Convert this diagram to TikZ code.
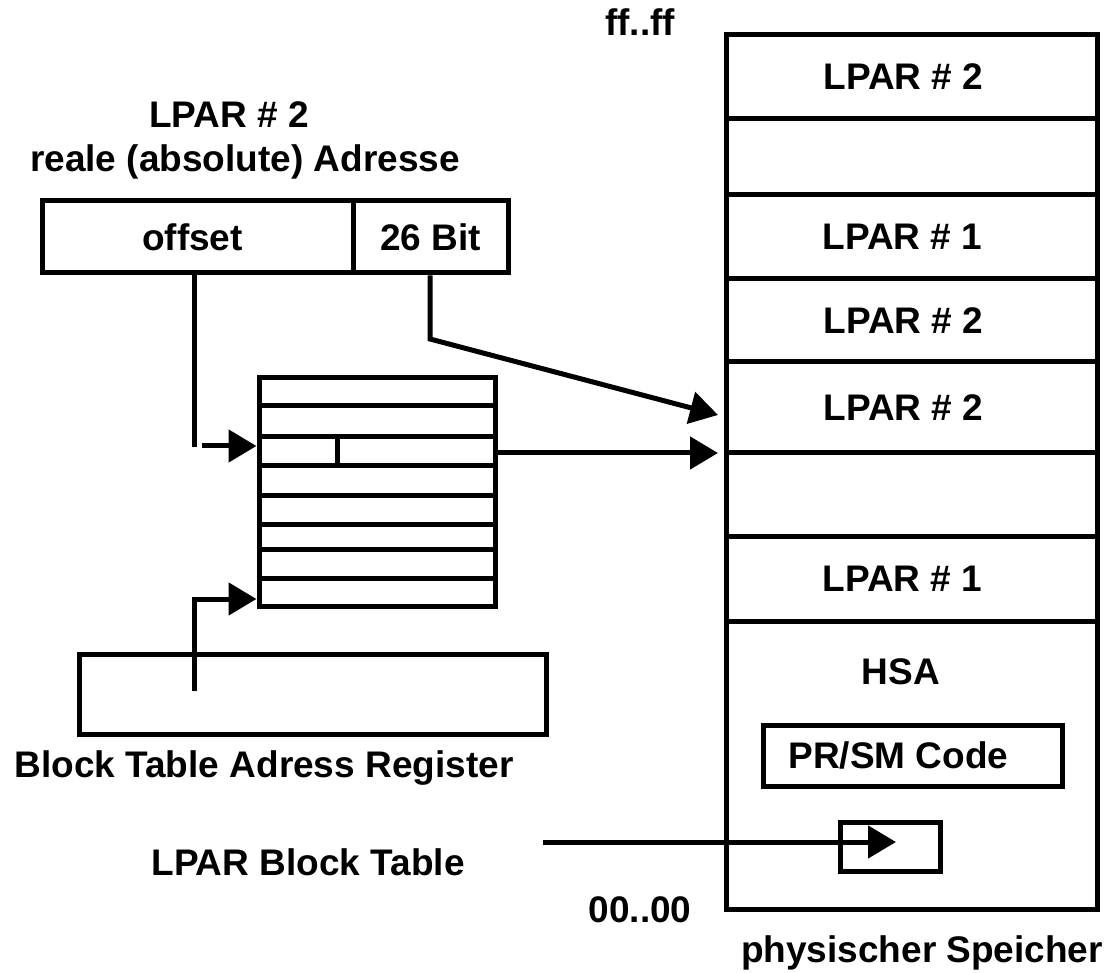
\documentclass[tikz,border=0pt]{standalone}
\usepackage{fontspec}
\setmainfont{Liberation Sans}
\usetikzlibrary{arrows.meta}
\begin{document}
\begin{tikzpicture}[x=1pt,y=-1pt,line width=5pt,
  txt/.style={font=\fontsize{37}{44}\selectfont\bfseries, inner sep=0pt, align=center},
  cell/.style={draw, rectangle, inner sep=0pt, font=\fontsize{37}{44}\selectfont\bfseries},
  memcell/.style={cell, minimum width=371pt},
  arr/.style={-{Triangle[length=28pt,width=32pt]}}]
\useasboundingbox (0,0) rectangle (1104,973);

% address register (top)
\node[txt] (t1) at (229,115) {LPAR \# 2};
\node[txt] (t2) at (245,162) {reale (absolute) Adresse};
\node[cell, minimum width=311pt, minimum height=72pt,
      label={[txt,xshift=-5pt]center:offset}] (off) at (197.5,237) {};
\node[cell, minimum width=155pt, minimum height=72pt] (bit) at (430.5,237) {26 Bit};

% block table
\node[cell, minimum width=236pt, minimum height=228pt] (tbl) at (377,492) {};
\foreach \yy in {406,437,466,496,525,550,578}
  \draw (tbl.west |- 0,\yy) -- (tbl.east |- 0,\yy);
\draw (337,437) -- (337,466);

% block table address register
\node[cell, minimum width=467pt, minimum height=80pt] (reg) at (312.5,694) {};
\node[txt] (t3) at (264,768) {Block Table Adress Register};
\node[txt] (t4) at (308,862) {LPAR Block Table};

% physical memory
\node[memcell, minimum height=84pt, label={[txt,xshift=-8pt]center:LPAR \# 2}] (m1) at (911.5,77) {};
\node[memcell, minimum height=76pt] (m2) at (911.5,157) {};
\node[memcell, minimum height=84pt, label={[txt,xshift=-9pt]center:LPAR \# 1}] (m3) at (911.5,237) {};
\node[memcell, minimum height=83pt, label={[txt,xshift=-8pt]center:LPAR \# 2}] (m4) at (911.5,320.5) {};
\node[memcell, minimum height=91pt, label={[txt,xshift=-8pt]center:LPAR \# 2}] (m5) at (911.5,407.5) {};
\node[memcell, minimum height=84pt] (m6) at (911.5,495) {};
\node[memcell, minimum height=84pt, label={[txt,xshift=-9pt]center:LPAR \# 1}] (m7) at (911.5,579) {};
\node[memcell, minimum height=288pt] (m8) at (911.5,765) {};
\node[txt] (hsa) at (901,672) {HSA};
\node[cell, minimum width=299pt, minimum height=61pt,
      label={[txt,xshift=-14pt]center:PR/SM Code}] (prsm) at (912.5,755.5) {};
\node[cell, minimum width=100pt, minimum height=49pt] (blk) at (890,846.5) {};

\node[txt] (ff) at (640,22) {ff..ff};
\node[txt] (zz) at (640,910) {00..00};
\node[txt] (ps) at (922,953) {physischer Speicher};

% connectors
\coordinate (o1) at (194,447);
\draw (off.south -| o1) -- (o1);
\coordinate (o2) at (202,446);
\draw[arr] (o2) -- (tbl.west |- o2);

\coordinate (b1) at (430,339);
\coordinate (b2) at (718,415);
\draw[arr] (bit.south -| b1) -- (b1) -- (b2);

\coordinate (h2) at (718,453);
\draw[arr] (tbl.east |- h2) -- (h2);

\coordinate (r1) at (194,691);
\coordinate (r2) at (194,599);
\draw[arr] (r1) -- (r2) -- (tbl.west |- r2);

\coordinate (l1) at (543,842);
\coordinate (l2) at (896,842);
\draw[arr] (l1) -- (l2);
\end{tikzpicture}
\end{document}
